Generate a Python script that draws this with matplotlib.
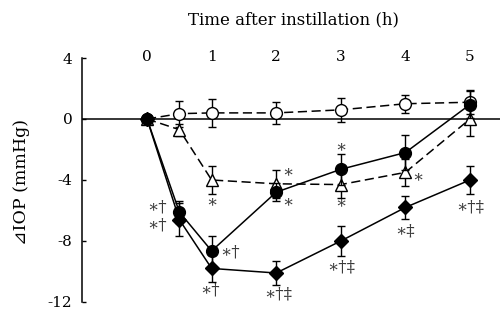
import matplotlib
matplotlib.use("Agg")
import matplotlib.pyplot as plt

hours = [0, 0.5, 1, 2, 3, 4, 5]
hour_ticks = [0, 1, 2, 3, 4, 5]
hour_labels = ["0", "1", "2", "3", "4", "5"]
y_ticks = [4, 0, -4, -8, -12]

open_circle = [0, 0.35, 0.4, 0.4, 0.6, 1.0, 1.1]
open_circle_err = [0, 0.85, 0.9, 0.7, 0.8, 0.6, 0.8]
open_triangle = [0, -0.7, -4.0, -4.25, -4.3, -3.5, 0.0]
open_triangle_err = [0, 0.4, 0.9, 0.9, 0.9, 0.9, 1.1]
filled_circle = [0, -6.1, -8.65, -4.8, -3.3, -2.2, 0.95]
filled_circle_err = [0, 0.7, 1.0, 0.6, 1.0, 1.15, 0.9]
filled_diamond = [0, -6.6, -9.8, -10.1, -8.0, -5.8, -4.0]
filled_diamond_err = [0, 1.1, 0.9, 0.8, 1.0, 0.75, 0.9]

ann_text = ["∗†", "∗†", "∗", "∗†", "∗†", "∗", "∗", "∗†‡",
            "∗", "∗", "∗†‡", "∗", "∗‡", "∗†‡"]
ann_x = [0.16, 0.16, 1.0, 1.28, 0.98, 2.18, 2.18, 2.03,
         3.0, 3.0, 3.0, 4.2, 4.0, 5.0]
ann_y = [-5.8, -6.95, -5.4, -8.7, -11.2, -3.45, -5.45, -11.5,
         -1.8, -5.5, -9.7, -3.8, -7.35, -5.75]

serif = ["DejaVu Serif", "DejaVu Sans"]
plt.rcParams["font.family"] = serif

fig = plt.figure(figsize=(5.0, 3.11), dpi=100)
ax = fig.add_axes([0.163, 0.029, 0.837, 0.7845])
ax.set_xlim(-1.015, 5.465)
ax.set_ylim(-12, 4)

ax.axhline(0, color="black", lw=1.1, zorder=1)

common = dict(color="black", lw=1.1, capsize=3.2, elinewidth=1.0,
              capthick=1.0, ms=8.5, mec="black", mew=1.0)
ax.errorbar(hours, open_circle, yerr=open_circle_err, fmt="o", ls=(0, (6, 3)),
            mfc="white", zorder=3, **common)
ax.errorbar(hours, open_triangle, yerr=open_triangle_err, fmt="^", ls=(0, (6, 3)),
            mfc="white", zorder=3, **common)
ax.errorbar(hours, filled_diamond, yerr=filled_diamond_err, fmt="D", ls="-",
            mfc="black", zorder=4, **dict(common, ms=7))
ax.errorbar(hours, filled_circle, yerr=filled_circle_err, fmt="o", ls="-",
            mfc="black", zorder=5, **common)

for t, x, y in zip(ann_text, ann_x, ann_y):
    ax.text(x, y, t, ha="center", va="center", fontsize=12, color="#3a3a3a",
            family=["DejaVu Serif", "DejaVu Sans"])

for s in ["top", "right", "bottom"]:
    ax.spines[s].set_visible(False)
ax.spines["left"].set_linewidth(1.1)

ax.set_yticks(y_ticks)
ax.set_yticklabels([str(v) if v >= 0 else "-" + str(-v) for v in y_ticks])
ax.tick_params(axis="y", direction="in", length=3, width=1.0, pad=6.5, labelsize=11)

ax.xaxis.tick_top()
ax.set_xticks(hour_ticks)
ax.set_xticklabels(hour_labels)
ax.tick_params(axis="x", length=0, pad=-4.5, labelsize=11)

fig.text(294 / 500, 1 - 20 / 311, "Time after instillation (h)", ha="center",
         va="center", fontsize=12)
fig.text(22 / 500, 1 - 182 / 311, "⊿IOP (mmHg)", rotation=90, ha="center",
         va="center", fontsize=12.5)

fig.savefig("out.png", dpi=100)
